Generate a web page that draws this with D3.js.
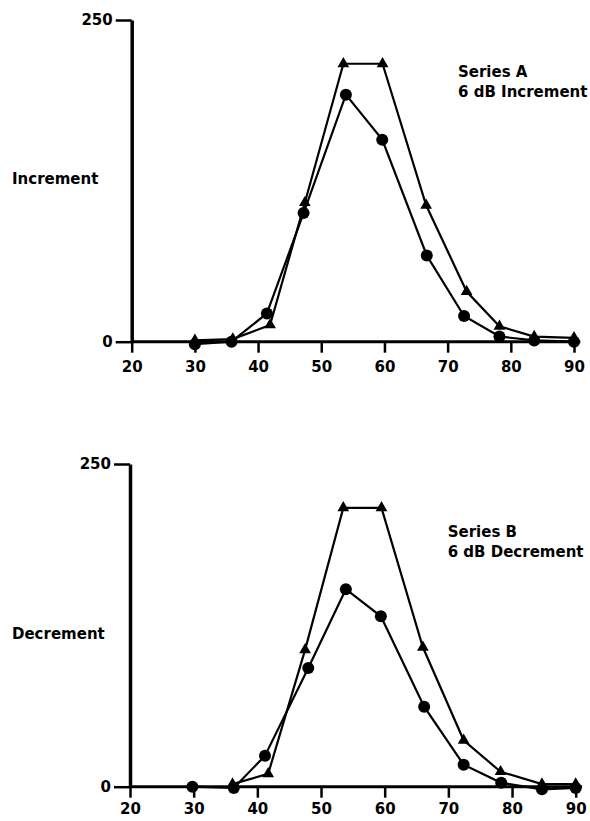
<!DOCTYPE html>
<html><head><meta charset="utf-8">
<script src="https://cdn.jsdelivr.net/npm/d3@7"></script>
<style>
html,body{margin:0;padding:0;background:#fff;}
svg{display:block;}
text{font-family:"DejaVu Sans",sans-serif;font-weight:bold;fill:#000;}
</style></head>
<body>
<script>
// ---- data ----
const xTicks = [20,30,40,50,60,70,80,90];
const yTicks = [0,250];

const incTriX = [30,36,41.9,47.4,53.5,59.7,66.6,73,78.2,83.7,90];
const incTriY = [1,2,13,108,216,216,106,39,12,4,3];
const incCirX = [30,35.8,41.4,47.2,53.9,59.65,66.7,72.6,78.2,83.7,90];
const incCirY = [-2,0,22,100,192,157,67,20,4,1,0];

const decTriX = [36.1,41.7,47.5,53.5,59.5,66,72.4,78.2,84.7,90];
const decTriY = [2,10,106,216,216,108,36,11.6,2,2];
const decCirX = [29.8,36.3,41.2,48,53.9,59.4,66.2,72.4,78.3,84.7,90];
const decCirY = [0,-1,24,92,153,132,62,17,3,-2,-1];

const panelYLabels = ["Increment","Decrement"];
const panelTitles = [["Series A","6 dB Increment"],["Series B","6 dB Decrement"]];

// ---- layout ----
const W = 590, H = 821;
const svg = d3.select("body").append("svg").attr("width",W).attr("height",H);

const panels = [
  {x0:131.7, x1:574, yTop:20, yBase:341.7, tri:[incTriX,incTriY], cir:[incCirX,incCirY],
   ylab:panelYLabels[0], ylabY:183.5, title:panelTitles[0], titleX:458, titleY:76.7, tickPad:9},
  {x0:130, x1:575.7, yTop:464, yBase:786.7, tri:[decTriX,decTriY], cir:[decCirX,decCirY],
   ylab:panelYLabels[1], ylabY:639, title:panelTitles[1], titleX:447.7, titleY:536.5, tickPad:6}
];

panels.forEach(p=>{
  const x = d3.scaleLinear().domain([20,90]).range([p.x0,p.x1]);
  const y = d3.scaleLinear().domain([0,250]).range([p.yBase,p.yTop]);
  const g = svg.append("g");

  // x axis baseline
  g.append("line")
    .attr("x1",x(20)).attr("x2",x(91))
    .attr("y1",y(0)).attr("y2",y(0))
    .attr("stroke","#000").attr("stroke-width",3);

  // x axis ticks
  const xa = g.append("g").attr("transform",`translate(0,${y(0)})`)
    .call(d3.axisBottom(x).tickValues(xTicks).tickSize(11).tickSizeOuter(0).tickPadding(p.tickPad));
  xa.select(".domain").remove();
  xa.selectAll(".tick line").attr("stroke","#000").attr("stroke-width",2.5);
  xa.selectAll(".tick text").style("font-family","'DejaVu Sans',sans-serif")
    .style("font-weight","bold").style("font-size","15px").attr("fill","#000");

  // y axis
  const ya = g.append("g").attr("transform",`translate(${x(20)},0)`)
    .call(d3.axisLeft(y).tickValues(yTicks).tickSize(16).tickSizeOuter(0).tickPadding(3));
  ya.select(".domain").attr("stroke","#000").attr("stroke-width",3.5);
  ya.selectAll(".tick line").attr("stroke","#000").attr("stroke-width",2.5);
  ya.selectAll(".tick text").style("font-family","'DejaVu Sans',sans-serif")
    .style("font-weight","bold").style("font-size","15px").attr("fill","#000");

  // lines
  const line = d3.line().x(d=>x(d[0])).y(d=>y(d[1]));
  const triPts = d3.zip(p.tri[0],p.tri[1]);
  const cirPts = d3.zip(p.cir[0],p.cir[1]);
  g.append("path").datum(triPts).attr("d",line).attr("fill","none")
    .attr("stroke","#000").attr("stroke-width",2.2);
  g.append("path").datum(cirPts).attr("d",line).attr("fill","none")
    .attr("stroke","#000").attr("stroke-width",2.2);

  // markers
  g.selectAll(".tri").data(triPts).join("path")
    .attr("d",d3.symbol().type(d3.symbolTriangle).size(60))
    .attr("transform",d=>`translate(${x(d[0])},${y(d[1])})`)
    .attr("fill","#000");
  g.selectAll(".cir").data(cirPts).join("circle")
    .attr("cx",d=>x(d[0])).attr("cy",d=>y(d[1])).attr("r",6)
    .attr("fill","#000");

  // y label
  g.append("text").attr("x",12).attr("y",p.ylabY)
    .style("font-size","15px").text(p.ylab);

  // title
  g.append("text").attr("x",p.titleX).attr("y",p.titleY)
    .style("font-size","15px").text(p.title[0]);
  g.append("text").attr("x",p.titleX).attr("y",p.titleY+20)
    .style("font-size","15px").text(p.title[1]);
});
</script>
</body></html>
